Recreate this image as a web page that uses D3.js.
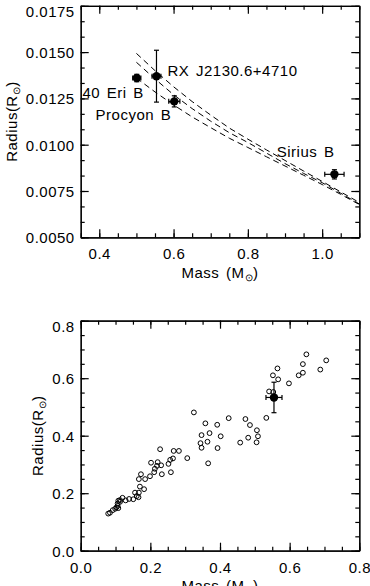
<!DOCTYPE html>
<html>
<head>
<meta charset="utf-8">
<title>white dwarf mass-radius</title>
<script src="https://cdn.jsdelivr.net/npm/d3@7"></script>
<style>
  body { margin: 0; background: #fff; }
  text { font-family: "Liberation Sans", Arial, sans-serif; font-size: 15px; letter-spacing: 0.5px; word-spacing: 2px; fill: #000; }
</style>
</head>
<body>
<div id="chart"></div>
<script>

// top panel: measured white dwarfs
var wdNames = ["40 Eri B", "RX J2130.6+4710", "Procyon B", "Sirius B"],
    wdMass = [0.501, 0.554, 0.602, 1.033],
    wdMassErr = [0.011, 0.012, 0.015, 0.026],
    wdRadius = [0.0136, 0.0137, 0.01234, 0.0084],
    wdRadiusErr = [0.0002, 0.0014, 0.0003, 0.00025];

// model mass-radius relations (dashed)
var modelMass = [0.50, 0.55, 0.60, 0.65, 0.70, 0.75, 0.80, 0.85, 0.90, 0.95, 1.00, 1.05, 1.10],
    modelA = [0.01493, 0.01400, 0.01313, 0.01233, 0.01160, 0.01090, 0.01030, 0.00972, 0.00915, 0.00858, 0.00802, 0.00745, 0.00688],
    modelB = [0.01445, 0.01355, 0.01270, 0.01195, 0.01127, 0.01065, 0.01012, 0.00955, 0.00898, 0.00845, 0.00795, 0.00738, 0.00680],
    modelC = [0.01360, 0.01285, 0.01215, 0.01150, 0.01092, 0.01035, 0.00985, 0.00935, 0.00885, 0.00835, 0.00785, 0.00732, 0.00677];

var topXTicks = [0.4, 0.6, 0.8, 1.0],
    topYTicks = [0.005, 0.0075, 0.0100, 0.0125, 0.0150, 0.0175];

// bottom panel: low-mass stars (open) and RX J2130.6+4710 companion (filled)
var starMass = [0.325, 0.358, 0.392, 0.425, 0.473, 0.486, 0.533, 0.347, 0.370, 0.402,
                0.344, 0.347, 0.364, 0.393, 0.366, 0.458, 0.481, 0.506, 0.509, 0.505,
                0.306, 0.541, 0.553, 0.552, 0.565, 0.567, 0.598, 0.626, 0.638, 0.638,
                0.648, 0.688, 0.705,
                0.228, 0.267, 0.282, 0.202, 0.221, 0.219, 0.213, 0.231, 0.252, 0.257,
                0.265, 0.259, 0.233, 0.211, 0.199, 0.185, 0.173, 0.167, 0.170, 0.182,
                0.156, 0.167, 0.161, 0.166, 0.151, 0.139, 0.129, 0.120, 0.113, 0.108,
                0.106, 0.108, 0.103, 0.099, 0.092, 0.084, 0.079, 0.113, 0.106],
    starRadius = [0.481, 0.443, 0.438, 0.461, 0.458, 0.437, 0.462, 0.402, 0.409, 0.398,
                  0.374, 0.358, 0.379, 0.357, 0.304, 0.376, 0.393, 0.419, 0.398, 0.377,
                  0.322, 0.554, 0.552, 0.610, 0.634, 0.596, 0.582, 0.610, 0.619, 0.649,
                  0.683, 0.630, 0.662,
                  0.353, 0.347, 0.347, 0.306, 0.308, 0.295, 0.285, 0.297, 0.302, 0.316,
                  0.321, 0.273, 0.266, 0.273, 0.259, 0.249, 0.266, 0.249, 0.223, 0.214,
                  0.202, 0.202, 0.190, 0.186, 0.179, 0.180, 0.175, 0.184, 0.176, 0.174,
                  0.164, 0.148, 0.151, 0.146, 0.141, 0.132, 0.129, 0.170, 0.156];

var compMass = [0.555], compMassErr = [0.023],
    compRadius = [0.533], compRadiusErr = [0.053];

var botXTicks = [0.0, 0.2, 0.4, 0.6, 0.8],
    botYTicks = [0.0, 0.2, 0.4, 0.6, 0.8];

var width = 370, height = 586;

var svg = d3.select("#chart").append("svg")
    .attr("width", width)
    .attr("height", height);

// draws a framed panel with ticks on all four sides, labels left and bottom
function drawFrame(x, y, xTicks, yTicks, xMinor, yMinor, yFmt, titleY, yTitleX) {
    var x0 = x.range()[0], x1 = x.range()[1],
        y0 = y.range()[0], y1 = y.range()[1];
    var g = svg.append("g");

    function ax(axis, tx, ty, ticks, size, fmt) {
        var a = g.append("g")
            .attr("transform", "translate(" + tx + "," + ty + ")")
            .call(axis.tickValues(ticks).tickSize(size).tickSizeOuter(0).tickPadding(7).tickFormat(fmt));
        a.selectAll("path, line").attr("stroke", "#000").attr("stroke-width", 1.2);
        a.selectAll("text").attr("font-family", null).attr("font-size", null);
        return a;
    }
    var none = function() { return ""; };

    ax(d3.axisBottom(x), 0, y0, xMinor, -4, none);
    ax(d3.axisTop(x), 0, y1, xMinor, -4, none);
    ax(d3.axisLeft(y), x0, 0, yMinor, -4, none);
    ax(d3.axisRight(y), x1, 0, yMinor, -4, none);
    ax(d3.axisTop(x), 0, y1, xTicks, -8, none);
    ax(d3.axisRight(y), x1, 0, yTicks, -8, none);
    var bx = ax(d3.axisBottom(x), 0, y0, xTicks, -8, d3.format(".1f"));
    bx.selectAll("text").attr("dy", null).attr("y", 22);
    var ly = ax(d3.axisLeft(y), x0, 0, yTicks, -8, d3.format(yFmt));
    var top = d3.max(yTicks);
    // topmost label is pushed down to stay inside the page
    ly.selectAll("text").attr("x", -6)
        .attr("dy", function(d) { return d === top ? "0.72em" : "0.36em"; });

    // axis titles with subscript sun symbol
    var xt = g.append("text")
        .attr("x", (x0 + x1) / 2)
        .attr("y", titleY)
        .attr("text-anchor", "middle");
    xt.append("tspan").text("Mass (M");
    xt.append("tspan").attr("font-size", "10px").attr("dy", 3).text("\u2299");
    xt.append("tspan").attr("dy", -3).text(")");

    var yt = g.append("text")
        .attr("transform", "translate(" + yTitleX + "," + ((y0 + y1) / 2) + ") rotate(-90)")
        .attr("text-anchor", "middle");
    yt.append("tspan").text("Radius(R");
    yt.append("tspan").attr("font-size", "10px").attr("dy", 3).text("\u2299");
    yt.append("tspan").attr("dy", -3).text(")");
}

// ---------- top panel ----------
var xTop = d3.scaleLinear().domain([0.35, 1.1]).range([80.7, 359.3]);
var yTop = d3.scaleLinear().domain([0.005, 0.0175]).range([237.3, 5.8]);

var topMinorX = d3.range(0.35, 1.1001, 0.05),
    topMinorY = d3.range(0, 16).map(function(i) { return 0.005 + i * 0.0025 / 3; });

drawFrame(xTop, yTop, topXTicks, topYTicks, topMinorX, topMinorY, ".4f", 278, 16.5);

var line = d3.line()
    .x(function(d) { return xTop(d[0]); })
    .y(function(d) { return yTop(d[1]); });

[modelA, modelB, modelC].forEach(function(m) {
    svg.append("path")
        .datum(modelMass.map(function(v, i) { return [v, m[i]]; }))
        .attr("d", line)
        .attr("fill", "none")
        .attr("stroke", "#000")
        .attr("stroke-width", 1)
        .attr("stroke-dasharray", "6,4");
});

var wd = wdNames.map(function(n, i) {
    return {name: n, m: wdMass[i], me: wdMassErr[i], r: wdRadius[i], re: wdRadiusErr[i]};
});

function errorBars(sel, x, y, cap) {
    sel.each(function(d) {
        var g = d3.select(this);
        g.append("line")
            .attr("x1", x(d.m - d.me)).attr("x2", x(d.m + d.me))
            .attr("y1", y(d.r)).attr("y2", y(d.r));
        g.append("line")
            .attr("x1", x(d.m)).attr("x2", x(d.m))
            .attr("y1", y(d.r - d.re)).attr("y2", y(d.r + d.re));
        [d.m - d.me, d.m + d.me].forEach(function(v) {
            g.append("line").attr("x1", x(v)).attr("x2", x(v))
                .attr("y1", y(d.r) - cap).attr("y2", y(d.r) + cap);
        });
        [d.r - d.re, d.r + d.re].forEach(function(v) {
            g.append("line").attr("x1", x(d.m) - cap).attr("x2", x(d.m) + cap)
                .attr("y1", y(v)).attr("y2", y(v));
        });
        g.selectAll("line").attr("stroke", "#000").attr("stroke-width", 1.2);
        g.append("circle")
            .attr("cx", x(d.m)).attr("cy", y(d.r)).attr("r", 4.2)
            .attr("fill", "#000");
    });
}

svg.selectAll(".wd")
    .data(wd)
    .enter().append("g")
    .attr("class", "wd")
    .call(errorBars, xTop, yTop, 2.5);

// label offsets from each star, in pixels
var labelOffset = {
    "40 Eri B": [7, 20, "end"],
    "RX J2130.6+4710": [11, 0, "start"],
    "Procyon B": [-3, 18.5, "end"],
    "Sirius B": [0, -17, "end"]
};
svg.selectAll(".wdlabel")
    .data(wd)
    .enter().append("text")
    .attr("class", "wdlabel")
    .attr("x", function(d) { return xTop(d.m) + labelOffset[d.name][0]; })
    .attr("y", function(d) { return yTop(d.r) + labelOffset[d.name][1]; })
    .attr("text-anchor", function(d) { return labelOffset[d.name][2]; })
    .text(function(d) { return d.name; });

// ---------- bottom panel ----------
var xBot = d3.scaleLinear().domain([0, 0.8]).range([80.7, 359.3]);
var yBot = d3.scaleLinear().domain([0, 0.8]).range([550.7, 320.7]);

var botMinor = d3.range(0, 0.8001, 0.05);

drawFrame(xBot, yBot, botXTicks, botYTicks, botMinor, botMinor, ".1f", 591, 43);

svg.selectAll(".star")
    .data(starMass)
    .enter().append("circle")
    .attr("class", "star")
    .attr("cx", function(d) { return xBot(d); })
    .attr("cy", function(d, i) { return yBot(starRadius[i]); })
    .attr("r", 2.4)
    .attr("fill", "none")
    .attr("stroke", "#000")
    .attr("stroke-width", 1);

svg.selectAll(".comp")
    .data(compMass.map(function(m, i) {
        return {m: m, me: compMassErr[i], r: compRadius[i], re: compRadiusErr[i]};
    }))
    .enter().append("g")
    .attr("class", "comp")
    .call(errorBars, xBot, yBot, 2.5);

</script>
</body>
</html>
